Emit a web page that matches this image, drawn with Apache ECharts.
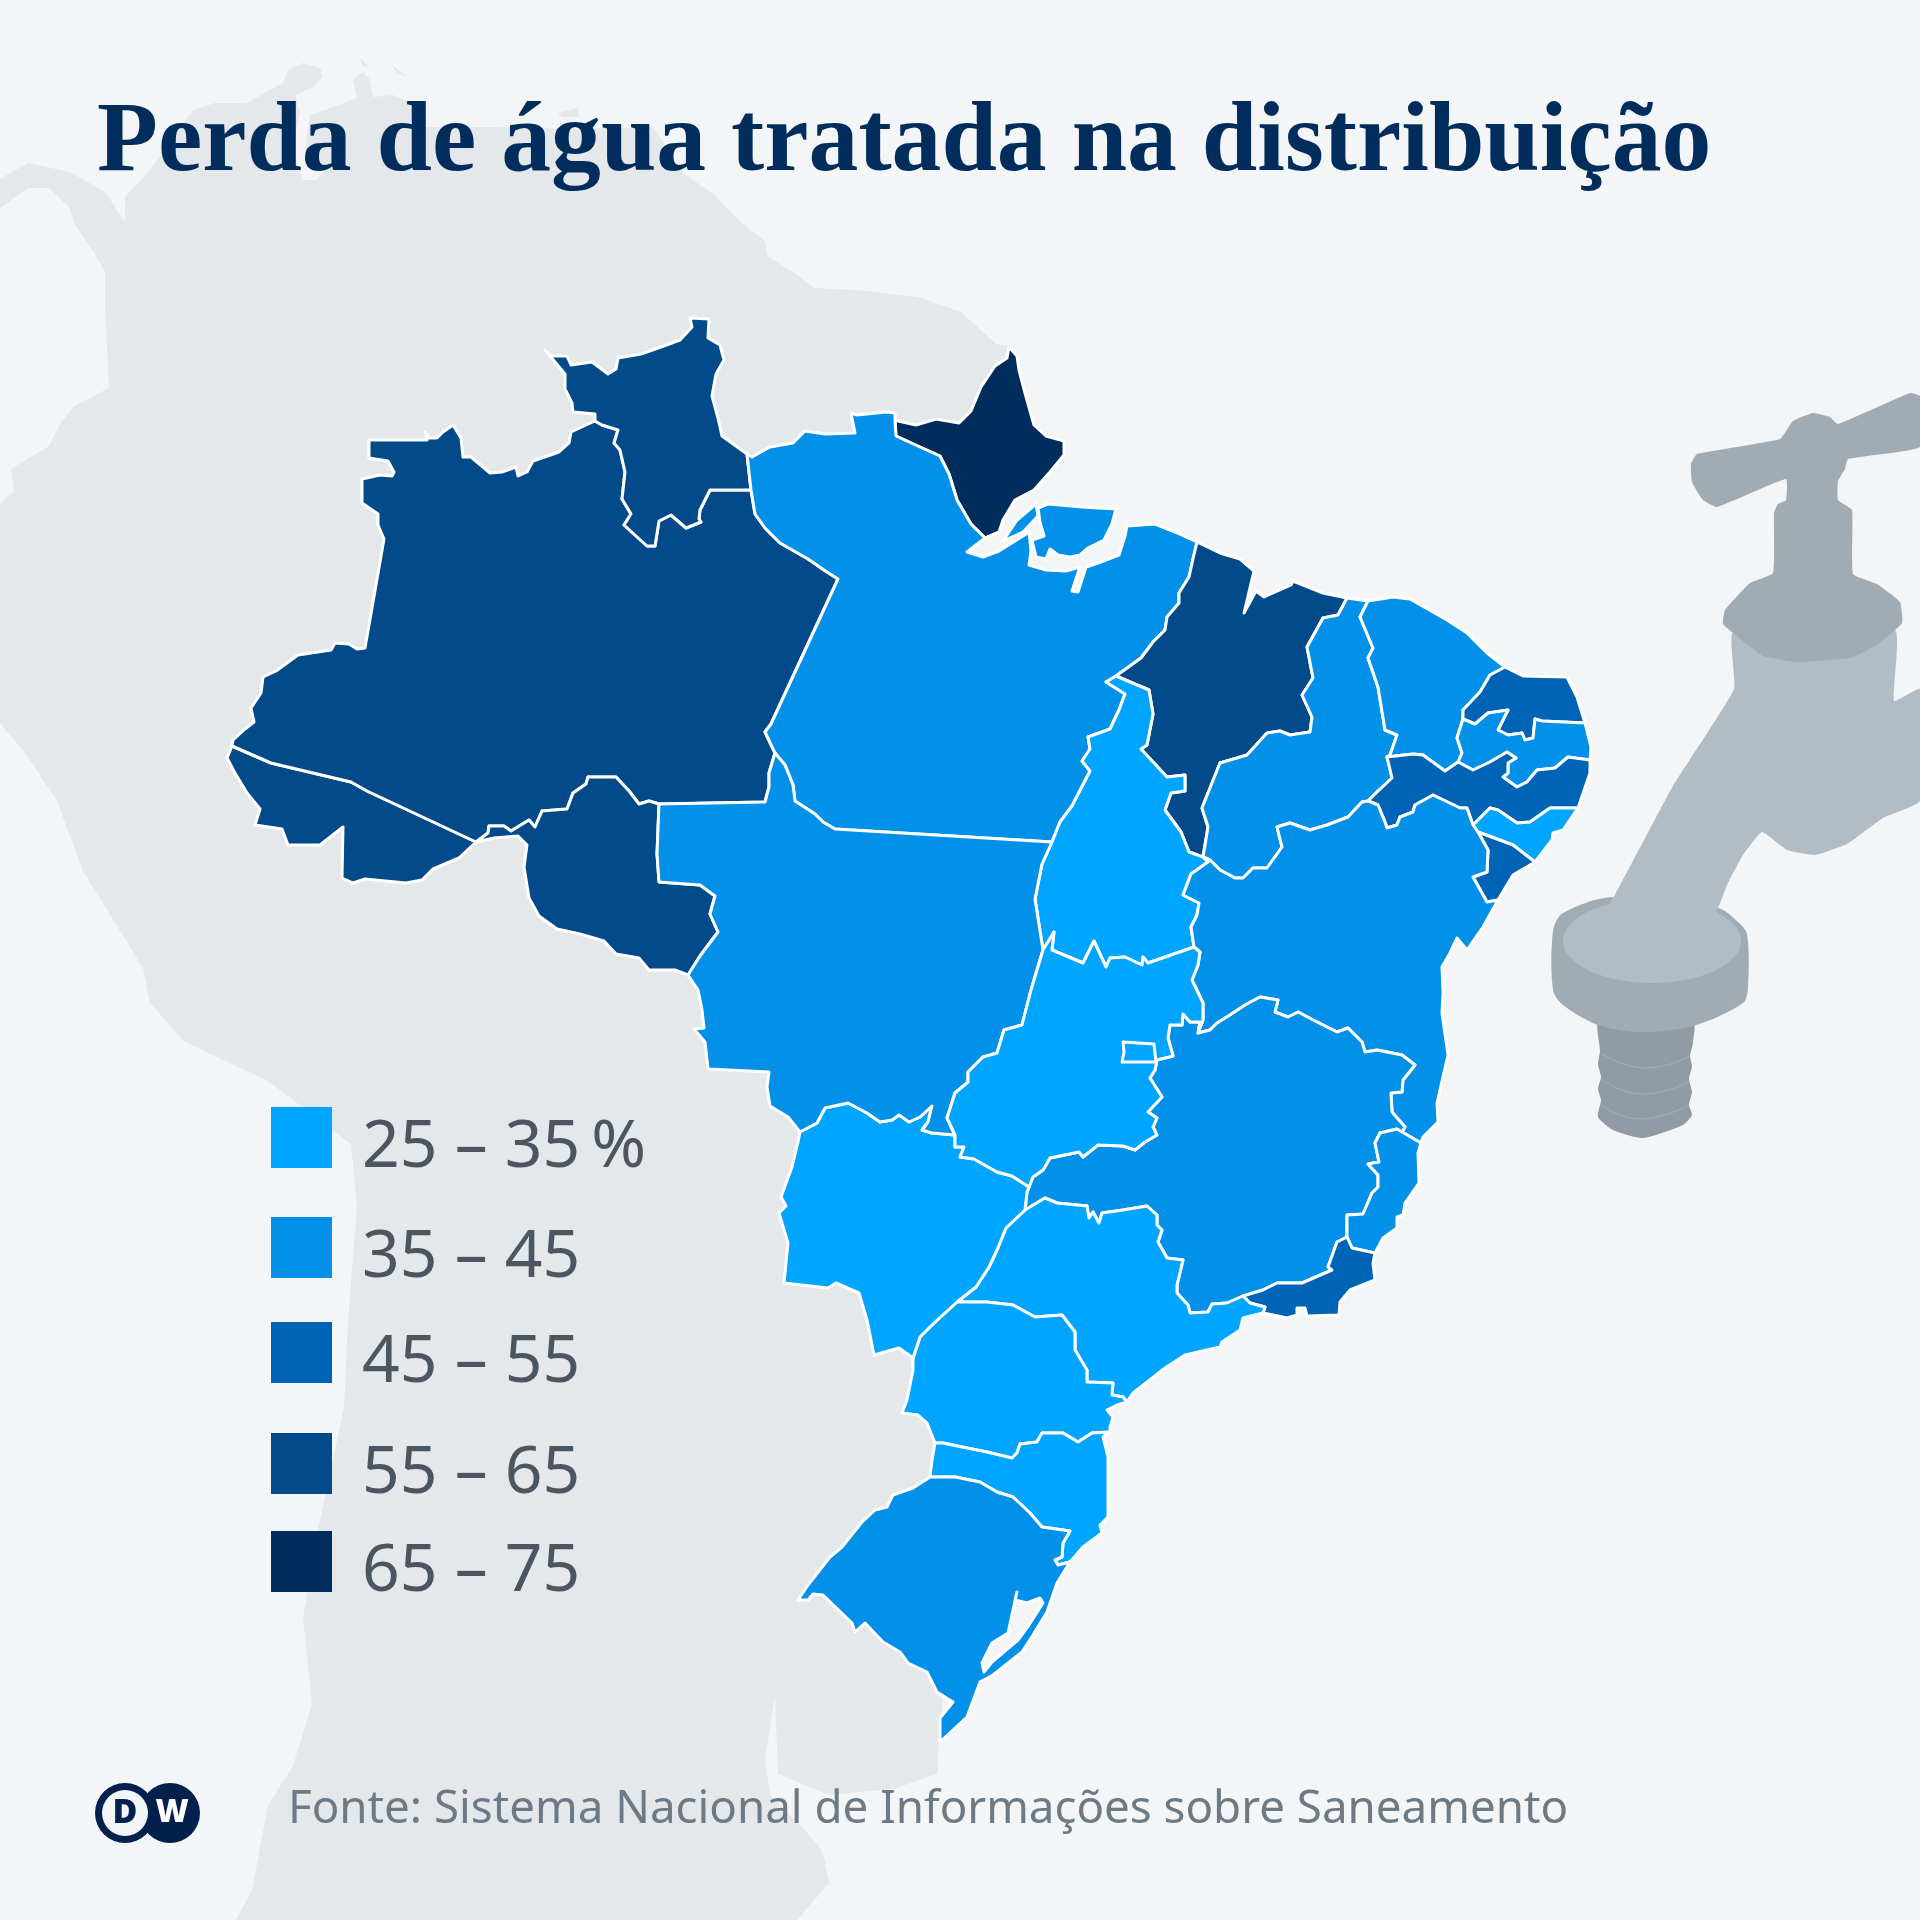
<!DOCTYPE html>
<html>
<head>
<meta charset="utf-8">
<title>Perda de água tratada na distribuição</title>
<script src="https://cdn.jsdelivr.net/npm/echarts@6/dist/echarts.min.js"></script>
<style>
html,body{margin:0;padding:0;background:#f3f5f7;}
#main{width:1920px;height:1920px;}
</style>
</head>
<body>
<div id="main"></div>
<script>
var estados = ['AC','AM','RR','RO','AP','PA','MA','TO','PI','CE','RN','PB','PE','AL','SE','BA','MG','ES','RJ','SP','PR','SC','RS','MS','MT','GO','DF'];
var perda   = [60,60,60,60,70,40,60,30,40,40,50,40,50,30,50,40,40,40,50,30,30,30,40,30,40,30,30];
var classesMin = [25,35,45,55,65];
var classesMax = [35,45,55,65,75];
var classesCor = ['#00a5ff','#0290e9','#0064b6','#024a8a','#002d5b'];
var classesTexto = ['25 – 35\u2009%','35 – 45','45 – 55','55 – 65','65 – 75'];
var titulo = 'Perda de água tratada na distribuição';
var fonte = 'Fonte: Sistema Nacional de Informações sobre Saneamento';

// fronteiras entre estados, cada uma escrita uma vez (coordenadas da imagem)
var arcos = {
  rrCoast:[[595,421],[595,414],[573,412],[572,403],[565,389],[565,374],[545,350],[551,356],[567,356],[571,365],[592,362],[608,374],[616,369],[618,358],[641,354],[661,347],[680,340],[692,327],[690,318],[709,319],[708,338],[720,345],[724,360],[716,374],[712,396],[718,418],[722,436],[747,454]],
  rrPa:[[747,454],[751,490]],
  rrAm:[[751,490],[710,490],[700,510],[699,519],[701,522],[686,528],[671,515],[659,521],[655,546],[647,546],[624,525],[631,514],[622,499],[625,472],[620,450],[614,443],[618,430],[602,425],[595,421]],
  amNorth:[[595,421],[586,425],[571,432],[569,443],[559,452],[533,461],[527,472],[518,476],[516,467],[502,472],[490,473],[471,457],[463,457],[461,438],[453,425],[443,432],[437,438],[429,438],[425,432],[427,440],[369,440],[369,458],[388,461],[394,472],[392,476],[380,475],[362,479],[362,503],[378,514],[378,525],[384,539],[365,648],[357,649],[349,644],[335,643],[331,650],[298,655],[276,671],[263,677],[261,693],[251,708],[254,722],[245,729],[233,740],[232,746]],
  acAm:[[232,746],[271,763],[351,782],[367,791],[476,842]],
  acCoast:[[232,746],[227,758],[235,773],[247,793],[260,809],[255,825],[282,829],[288,845],[320,845],[343,827],[342,878],[353,883],[365,879],[406,883],[422,880],[433,869],[459,858],[476,842]],
  amRo:[[476,842],[488,833],[489,826],[504,826],[511,831],[529,820],[535,827],[542,811],[567,809],[573,793],[586,784],[588,777],[616,777],[629,791],[639,804],[649,801],[659,804]],
  amMt:[[659,804],[765,802],[769,787],[769,773],[775,753]],
  amPa:[[775,753],[765,732],[771,724],[838,579],[824,570],[808,559],[780,543],[765,528],[755,514],[751,490]],
  roSouth:[[476,842],[494,838],[518,836],[527,845],[524,867],[529,898],[539,916],[557,929],[580,934],[604,941],[616,954],[639,958],[649,970],[675,970],[688,975]],
  roMt:[[688,975],[700,956],[718,932],[710,914],[715,896],[700,885],[659,882],[657,854],[659,804]],
  mtWest:[[688,975],[698,990],[702,1010],[704,1028],[694,1029],[705,1042],[708,1069],[769,1072],[767,1087],[770,1106],[788,1117],[800,1132]],
  mtMs:[[800,1132],[817,1123],[825,1108],[848,1103],[867,1113],[880,1122],[892,1120],[899,1115],[909,1122],[920,1117],[932,1106],[928,1122],[922,1130],[932,1133],[955,1135]],
  mtGo:[[955,1135],[947,1118],[955,1093],[968,1082],[968,1072],[983,1057],[997,1053],[1004,1030],[1022,1025],[1031,990],[1043,950]],
  mtTo:[[1043,950],[1035,899],[1042,864],[1052,842]],
  mtPa:[[1052,842],[835,829],[823,822],[815,814],[795,801],[793,785],[785,765],[775,753]],
  paNorth:[[747,454],[752,457],[770,447],[793,443],[805,431],[825,434],[855,433],[851,413],[857,415],[886,412],[895,413],[895,421]],
  apPa:[[895,421],[896,436],[920,447],[940,456],[949,474],[957,500],[971,524],[985,538]],
  apNorth:[[895,421],[898,421],[916,425],[936,419],[959,423],[971,411],[981,387],[995,366],[1007,358],[1009,347],[1017,356],[1019,370],[1025,393],[1034,425],[1046,436],[1064,441],[1064,455],[1050,472],[1034,490],[1015,500],[1003,520],[999,532],[985,538]],
  paCoast:[[985,538],[967,552],[983,557],[999,551],[1023,536],[1029,532],[1031,551],[1029,565],[1046,570],[1066,571],[1080,567],[1072,591],[1078,592],[1086,567],[1098,563],[1119,555],[1125,536],[1127,526],[1155,524],[1175,532],[1197,542]],
  paMa:[[1116,676],[1141,658],[1153,642],[1165,630],[1167,617],[1179,603],[1179,593],[1189,577],[1193,559],[1197,542]],
  paTo:[[1116,676],[1106,682],[1125,694],[1119,710],[1110,729],[1088,737],[1090,749],[1082,761],[1090,771],[1072,806],[1060,822],[1052,842]],
  maCoast:[[1197,542],[1220,553],[1240,559],[1254,571],[1244,613],[1256,591],[1264,597],[1291,585],[1293,581],[1323,593],[1347,598]],
  maPi:[[1347,598],[1338,615],[1323,618],[1307,647],[1313,678],[1302,695],[1312,717],[1310,732],[1290,735],[1280,731],[1267,733],[1247,755],[1220,763],[1202,808],[1208,827],[1203,857]],
  maTo:[[1116,676],[1149,690],[1153,714],[1147,745],[1141,749],[1167,777],[1185,775],[1185,791],[1171,793],[1165,810],[1181,832],[1189,852],[1203,857]],
  toBa:[[1203,857],[1208,862],[1191,874],[1183,895],[1199,903],[1197,915],[1191,927],[1194,947]],
  toGo:[[1043,950],[1054,932],[1052,950],[1083,963],[1094,941],[1106,967],[1110,958],[1125,957],[1142,965],[1143,957],[1148,963],[1171,955],[1194,947]],
  goBa:[[1194,947],[1200,952],[1198,965],[1192,980],[1203,1003],[1203,1020],[1198,1033]],
  goMg:[[1198,1033],[1200,1022],[1190,1022],[1183,1014],[1182,1025],[1170,1025],[1168,1038],[1173,1056],[1157,1060],[1155,1070],[1150,1078],[1162,1097],[1148,1112],[1157,1118],[1153,1127],[1157,1135],[1145,1142],[1135,1150],[1123,1146],[1098,1145],[1083,1157],[1079,1152],[1050,1158],[1043,1170],[1033,1177],[1029,1187]],
  msGo:[[955,1135],[955,1147],[964,1147],[960,1157],[974,1159],[997,1172],[1012,1176],[1029,1187]],
  msMg:[[1029,1187],[1027,1192],[1025,1210]],
  spMs:[[957,1302],[976,1287],[989,1267],[997,1250],[1006,1228],[1025,1210]],
  msPr:[[957,1302],[934,1323],[920,1337],[913,1358]],
  msWest:[[800,1132],[798,1142],[792,1167],[781,1197],[786,1206],[779,1213],[788,1243],[784,1283],[828,1288],[836,1283],[859,1293],[867,1320],[874,1355],[899,1348],[913,1358]],
  mgSp:[[1025,1210],[1045,1198],[1057,1203],[1087,1206],[1089,1218],[1093,1212],[1099,1223],[1102,1213],[1123,1210],[1147,1206],[1157,1215],[1157,1225],[1162,1230],[1158,1242],[1167,1258],[1183,1260],[1177,1285],[1177,1293],[1188,1305],[1190,1313],[1208,1312],[1212,1304],[1227,1303],[1243,1296]],
  mgRj:[[1243,1296],[1263,1290],[1277,1283],[1302,1283],[1332,1270],[1328,1267],[1337,1242],[1347,1237]],
  rjEs:[[1347,1237],[1352,1248],[1375,1253]],
  rjCoast:[[1375,1253],[1373,1263],[1375,1280],[1350,1290],[1340,1302],[1339,1315],[1307,1316],[1305,1308],[1297,1308],[1297,1315],[1287,1318],[1273,1315],[1263,1313],[1265,1307],[1250,1303],[1243,1296]],
  spCoast:[[1243,1296],[1250,1303],[1265,1307],[1263,1313],[1243,1318],[1240,1330],[1222,1342],[1220,1347],[1185,1355],[1165,1368],[1133,1393],[1127,1402]],
  mgEs:[[1402,1132],[1397,1129],[1380,1133],[1375,1143],[1379,1162],[1368,1164],[1378,1175],[1378,1187],[1372,1193],[1363,1214],[1347,1215],[1347,1237]],
  mgBa:[[1198,1033],[1210,1030],[1217,1023],[1230,1015],[1245,1005],[1260,997],[1278,1000],[1275,1012],[1288,1017],[1298,1012],[1317,1022],[1337,1032],[1348,1028],[1362,1042],[1365,1052],[1377,1050],[1402,1055],[1415,1065],[1403,1080],[1402,1092],[1391,1093],[1392,1112],[1405,1127],[1402,1132]],
  esBa:[[1402,1132],[1421,1143]],
  esCoast:[[1421,1143],[1418,1153],[1419,1183],[1405,1203],[1403,1215],[1397,1217],[1397,1228],[1383,1238],[1375,1253]],
  baCoast:[[1498,900],[1483,927],[1467,950],[1457,938],[1450,953],[1442,967],[1443,993],[1442,1013],[1448,1055],[1437,1103],[1438,1122],[1423,1137],[1421,1143]],
  piBa:[[1203,857],[1210,860],[1220,870],[1235,878],[1243,878],[1253,868],[1267,868],[1282,847],[1277,827],[1290,823],[1310,830],[1327,825],[1348,817],[1362,802],[1368,801]],
  piCoast:[[1347,598],[1368,601]],
  piCe:[[1368,601],[1360,617],[1373,648],[1368,658],[1378,687],[1385,730],[1397,735],[1390,755],[1387,757]],
  piPe:[[1387,757],[1392,778],[1377,792],[1368,801]],
  ceCoast:[[1368,601],[1393,597],[1410,599],[1447,620],[1467,633],[1487,653],[1505,667]],
  ceRn:[[1505,667],[1490,675],[1480,692],[1463,710],[1463,719]],
  cePb:[[1463,719],[1457,738],[1462,753],[1458,762]],
  cePe:[[1387,757],[1413,754],[1423,755],[1445,771],[1458,762]],
  rnCoast:[[1505,667],[1523,676],[1567,677],[1577,697],[1585,723]],
  rnPb:[[1463,719],[1475,724],[1488,713],[1508,710],[1498,730],[1508,735],[1522,733],[1525,740],[1533,738],[1535,719],[1542,721],[1585,723]],
  pbCoast:[[1585,723],[1591,747],[1590,760]],
  pbPe:[[1458,762],[1473,770],[1490,762],[1507,752],[1516,758],[1508,763],[1508,773],[1503,777],[1517,787],[1527,782],[1537,770],[1555,768],[1568,757],[1590,760]],
  peCoast:[[1590,760],[1590,773],[1578,808]],
  alPe:[[1473,825],[1490,808],[1498,810],[1517,823],[1530,822],[1550,808],[1578,808]],
  peBa:[[1473,825],[1467,808],[1460,808],[1433,795],[1415,805],[1413,812],[1400,817],[1397,825],[1387,828],[1385,822],[1378,805],[1368,801]],
  alBa:[[1473,825],[1478,832]],
  alSe:[[1478,832],[1513,845],[1535,862]],
  alCoast:[[1578,808],[1563,830],[1553,833],[1552,840],[1535,862]],
  seCoast:[[1535,862],[1513,875],[1507,885],[1498,900]],
  seBa:[[1478,832],[1488,850],[1487,872],[1473,877],[1487,902],[1498,900]],
  prSp:[[957,1302],[987,1302],[1013,1305],[1035,1317],[1062,1315],[1075,1332],[1075,1350],[1087,1370],[1087,1382],[1113,1383],[1112,1395],[1123,1397],[1127,1402]],
  prCoast:[[1127,1402],[1117,1405],[1107,1410],[1113,1417],[1110,1427],[1110,1432]],
  prSc:[[935,1443],[943,1443],[962,1447],[987,1452],[1012,1458],[1017,1453],[1020,1444],[1037,1442],[1042,1433],[1063,1433],[1078,1442],[1092,1433],[1110,1432]],
  prWest:[[935,1443],[927,1423],[918,1415],[902,1413],[907,1400],[913,1370],[913,1358]],
  scWest:[[930,1477],[932,1460],[935,1443]],
  scCoast:[[1110,1432],[1103,1437],[1108,1457],[1108,1490],[1108,1517],[1100,1525],[1102,1533],[1083,1547],[1070,1562]],
  scRs:[[930,1477],[943,1477],[955,1477],[980,1482],[997,1492],[1013,1497],[1030,1513],[1042,1527],[1070,1531],[1063,1543],[1062,1557],[1055,1560],[1058,1565],[1070,1562]],
  rsCoast:[[1070,1562],[1057,1583],[1047,1612],[1033,1635],[1022,1652],[993,1675],[980,1682],[967,1717],[940,1742]],
  rsWest:[[940,1742],[940,1718],[953,1702],[937,1692],[927,1672],[908,1663],[900,1652],[883,1642],[865,1623],[855,1632],[852,1623],[823,1595],[813,1594],[808,1600],[798,1600],[808,1585],[830,1557],[842,1547],[862,1522],[875,1510],[887,1507],[893,1495],[913,1488],[930,1477]]
};

// cada estado como sequência de arcos; '-' percorre o arco ao contrário
var aneis = {
  AC:['acCoast','-acAm'],
  AM:['amNorth','acAm','amRo','amMt','amPa','rrAm'],
  RR:['rrCoast','rrPa','rrAm'],
  RO:['roSouth','roMt','-amRo'],
  AP:['apNorth','-apPa'],
  PA:['paNorth','apPa','paCoast','-paMa','paTo','mtPa','amPa','-rrPa'],
  MA:['maCoast','maPi','-maTo','paMa'],
  TO:['maTo','toBa','-toGo','mtTo','-paTo'],
  PI:['-maPi','piCoast','piCe','piPe','-piBa'],
  CE:['ceCoast','ceRn','cePb','-cePe','-piCe'],
  RN:['rnCoast','-rnPb','-ceRn'],
  PB:['rnPb','pbCoast','-pbPe','-cePb'],
  PE:['cePe','pbPe','peCoast','-alPe','peBa','-piPe'],
  AL:['alPe','alCoast','-alSe','-alBa'],
  SE:['alSe','seCoast','-seBa'],
  BA:['-goBa','-toBa','piBa','-peBa','alBa','seBa','baCoast','-esBa','-mgBa'],
  MG:['mgBa','mgEs','-mgRj','-mgSp','-msMg','-goMg'],
  ES:['esBa','esCoast','-rjEs','-mgEs'],
  RJ:['mgRj','rjEs','rjCoast'],
  SP:['spMs','mgSp','spCoast','-prSp'],
  PR:['prSp','prCoast','-prSc','prWest','-msPr'],
  SC:['prSc','scCoast','-scRs','scWest'],
  RS:['scRs','rsCoast','rsWest'],
  MS:['mtMs','msGo','msMg','-spMs','msPr','-msWest'],
  MT:['mtWest','mtMs','mtGo','mtTo','mtPa','-amMt','-roMt'],
  GO:['mtGo','toGo','goBa','goMg','-msGo']
};
var distrito = [[1123,1042],[1154,1044],[1156,1062],[1122,1062],[1124,1052]];
var marajo = [[1048,504],[1082,507],[1116,509],[1112,524],[1104,540],[1088,548],[1080,555],[1070,557],[1058,555],[1050,549],[1046,559],[1036,557],[1032,540],[1044,536],[1040,522],[1038,508]];
var ilhaFoz = [[1017,520],[1036,504],[1038,516],[1023,532],[1003,541]];
// sentido contrário ao do contorno do RS, para furar o polígono
var lagoaPatos = [[1013,1610],[1008,1633],[992,1643],[982,1663],[984,1672],[992,1662],[1018,1640],[1029,1625],[1043,1603],[1040,1598],[1027,1603],[1015,1600],[1017,1592]];

// continente ao fundo, recortado pela imagem
var continente = [[1009,346],[996,344],[961,312],[919,297],[856,290],[814,288],[793,272],[768,257],[765,241],[737,219],[716,196],[684,174],[653,127],[575,129],[497,127],[425,127],[417,105],[393,95],[373,97],[370,80],[363,72],[353,80],[357,98],[333,107],[310,115],[305,150],[327,167],[317,180],[303,180],[292,150],[300,112],[295,95],[313,87],[323,77],[320,68],[303,63],[288,70],[283,83],[247,103],[215,103],[193,110],[150,170],[125,197],[125,222],[105,192],[70,172],[28,163],[0,179],[0,208],[28,188],[49,188],[70,208],[74,223],[95,254],[105,272],[105,304],[109,388],[74,406],[60,424],[49,446],[11,469],[14,491],[0,504],[0,723],[26,754],[57,801],[83,871],[112,918],[143,968],[150,1003],[185,1042],[268,1081],[351,1144],[357,1206],[348,1322],[344,1408],[319,1525],[303,1618],[312,1704],[293,1766],[268,1805],[252,1890],[236,1920],[797,1920],[829,1883],[823,1852],[804,1829],[770,1795],[765,1760],[775,1696],[778,1774],[829,1795],[893,1789],[937,1774],[939,1743],[950,1600],[1100,1300],[1100,800],[900,600],[975,430]];
var ilhasCaribe = [[[558,113],[577,108],[580,117],[562,117]],[[392,65],[407,77],[397,73]],[[360,58],[368,66],[363,66]]];

// torneira
var torneiraBase = [[1553,931],[1563,913],[1613,897],[1718,908],[1737,921],[1747,934],[1748,987],[1743,1003],[1693,1026],[1640,1032],[1598,1025],[1563,1005],[1553,990]];
var torneiraRosca = [[1599,1020],[1693,1020],[1693,1043],[1690,1056],[1692,1066],[1689,1079],[1692,1092],[1689,1105],[1692,1115],[1683,1125],[1643,1138],[1613,1130],[1598,1117],[1601,1100],[1598,1089],[1601,1077],[1598,1064],[1600,1051]];
var torneiraCorpo = [[1733,633],[1734,689],[1673,786],[1615,895],[1600,920],[1700,930],[1718,908],[1727,885],[1743,855],[1762,832],[1787,850],[1815,855],[1847,844],[1883,818],[1920,801],[1920,689],[1894,701],[1895,630]];
var torneiraCabo = [[1697,454],[1780,439],[1793,421],[1813,413],[1830,417],[1838,424],[1910,393],[1920,396],[1920,447],[1848,459],[1845,469],[1838,481],[1838,500],[1852,510],[1853,574],[1877,584],[1900,602],[1902,623],[1877,645],[1850,658],[1797,662],[1763,656],[1733,633],[1723,624],[1725,610],[1750,583],[1773,573],[1774,513],[1778,504],[1786,500],[1786,479],[1717,507],[1703,500],[1692,482],[1691,464]];
var torneiraFrisos = [[[1602,1054],[1645,1068],[1690,1056]],[[1601,1079],[1640,1094],[1689,1082]],[[1601,1105],[1640,1119],[1689,1105]]];

function xy(pts){
  return pts.map(function(p){ return [p[0],-p[1]]; });
}
function monta(lista){
  var saida=[];
  lista.forEach(function(nome){
    var inv=nome.charAt(0)=='-';
    var a=arcos[inv?nome.slice(1):nome].slice();
    if(inv){ a.reverse(); }
    saida=saida.concat(a);
  });
  saida.push(saida[0]);
  return xy(saida);
}
function feature(nome,geom){
  return {type:'Feature',properties:{name:nome},geometry:geom};
}
var features=estados.map(function(uf){
  if(uf=='DF'){
    return feature(uf,{type:'Polygon',coordinates:[xy(distrito.concat([distrito[0]]))]});
  }
  if(uf=='PA'){
    return feature(uf,{type:'MultiPolygon',coordinates:[[monta(aneis.PA)],[xy(marajo)],[xy(ilhaFoz)]]});
  }
  if(uf=='RS'){
    return feature(uf,{type:'Polygon',coordinates:[monta(aneis.RS),xy(lagoaPatos)]});
  }
  return feature(uf,{type:'Polygon',coordinates:[monta(aneis[uf])]});
});
echarts.registerMap('brasil',{type:'FeatureCollection',features:features});
var terra=[[xy(continente)]].concat(ilhasCaribe.map(function(i){ return [xy(i)]; }));
echarts.registerMap('continente',{type:'FeatureCollection',features:[feature('SA',{type:'MultiPolygon',coordinates:terra})]});

var grafico=[];
// legenda
var legendaTopo=[1107,1217,1322,1433,1531];
classesTexto.forEach(function(t,i){
  grafico.push({type:'rect',z:20,shape:{x:271,y:legendaTopo[i],width:61,height:61},style:{fill:classesCor[i]}});
  grafico.push({type:'text',z:20,x:362,y:legendaTopo[i]+74,style:{text:t,fill:'#4b5661',font:'400 66px "Noto Sans"',textVerticalAlign:'bottom',textBaseline:'alphabetic'}});
});
// torneira
grafico.push({type:'polygon',z:10,shape:{points:torneiraRosca,smooth:0.2},style:{fill:'#929aa6'}});
torneiraFrisos.forEach(function(f){
  grafico.push({type:'polyline',z:11,shape:{points:f,smooth:0.5},style:{stroke:'#a7aeb8',fill:null,lineWidth:1}});
});
grafico.push({type:'polygon',z:12,shape:{points:torneiraBase,smooth:0.3},style:{fill:'#a1abb3'}});
grafico.push({type:'ellipse',z:13,shape:{cx:1652,cy:941,rx:89,ry:42},style:{fill:'#b1bcc5'}});
grafico.push({type:'polygon',z:14,shape:{points:torneiraCorpo,smooth:0.12},style:{fill:'#b1bcc5'}});
grafico.push({type:'polygon',z:15,shape:{points:torneiraCabo,smooth:0.12},style:{fill:'#a1abb3'}});
// logo DW
grafico.push({type:'circle',z:20,shape:{cx:170,cy:1813,r:30},style:{fill:'#04204d'}});
grafico.push({type:'circle',z:21,shape:{cx:125,cy:1813,r:30},style:{fill:'#04204d'}});
grafico.push({type:'circle',z:22,shape:{cx:125,cy:1813,r:23},style:{fill:'#f3f5f7'}});
grafico.push({type:'text',z:23,x:125,y:1813,style:{text:'D',fill:'#04204d',font:'900 34px "Open Sans"',textAlign:'center',textVerticalAlign:'middle'}});
grafico.push({type:'text',z:23,x:172,y:1813,style:{text:'W',fill:'#ffffff',font:'900 32px "Open Sans"',textAlign:'center',textVerticalAlign:'middle'}});

var dados=estados.map(function(uf,i){
  return {name:uf,value:perda[i]};
});

var myChart=echarts.init(document.getElementById('main'));
myChart.setOption({
  animation:false,
  backgroundColor:'#f3f5f7',
  title:[
    {text:titulo,left:92,top:89,textStyle:{fontFamily:'Liberation Serif',fontWeight:'bold',fontSize:99.7,color:'#002d5b'}},
    {text:fonte,left:283,top:1782,textStyle:{fontFamily:'Noto Sans',fontWeight:'normal',fontSize:45.7,color:'#6d7a86'}}
  ],
  visualMap:{
    show:false,
    type:'piecewise',
    seriesIndex:0,
    pieces:classesMin.map(function(m,i){
      return {min:m,max:classesMax[i],color:classesCor[i]};
    })
  },
  geo:{
    map:'continente',
    silent:true,
    z:1,
    aspectScale:1,
    roam:false,
    boundingCoords:[[0,0],[1920,-1920]],
    layoutCenter:['50%','50%'],
    layoutSize:1920,
    label:{show:false},
    itemStyle:{areaColor:'#e4e8eb',borderWidth:0},
    emphasis:{disabled:true}
  },
  series:[{
    type:'map',
    map:'brasil',
    silent:true,
    z:5,
    aspectScale:1,
    roam:false,
    boundingCoords:[[0,0],[1920,-1920]],
    layoutCenter:['50%','50%'],
    layoutSize:1920,
    label:{show:false},
    itemStyle:{borderColor:'#ffffff',borderWidth:3,borderJoin:'round'},
    emphasis:{disabled:true},
    data:dados
  }],
  graphic:{elements:grafico}
});
</script>
</body>
</html>
